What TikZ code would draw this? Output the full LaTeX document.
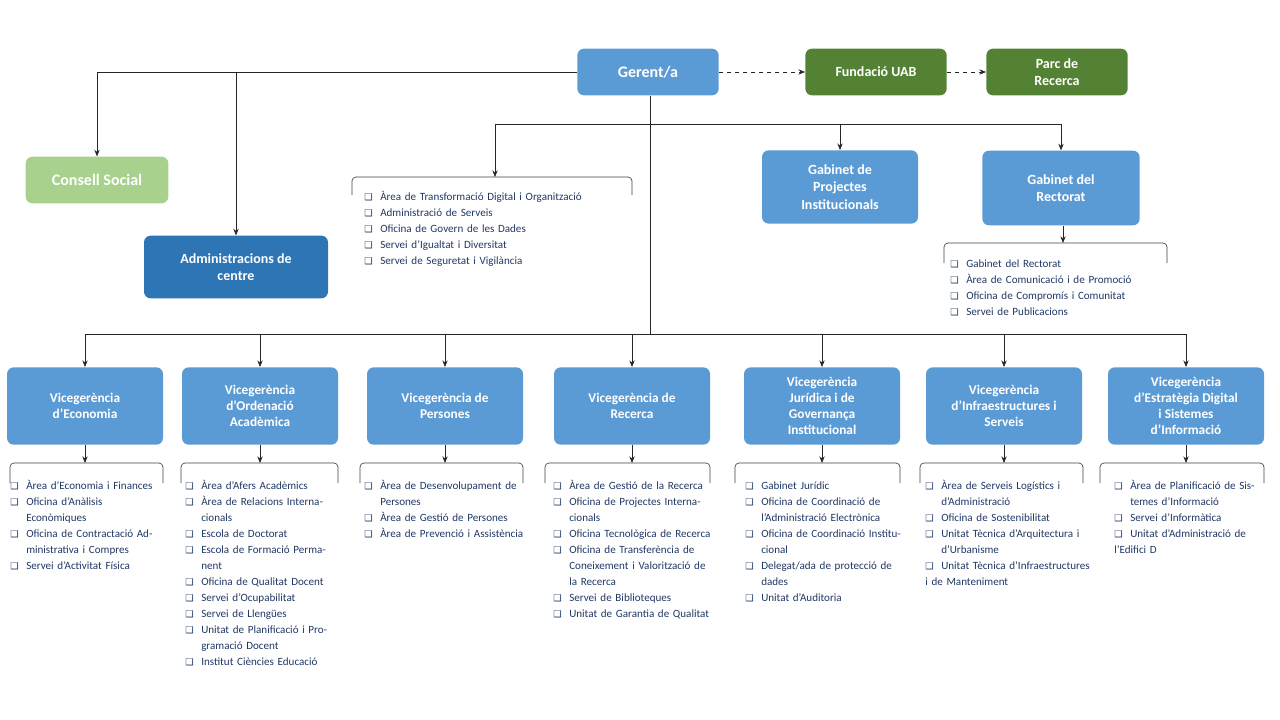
\documentclass[tikz,border=0pt]{standalone}
\usepackage{fontspec}
\setmainfont{Carlito}
\newfontfamily\symfont{DejaVu Sans}
\usetikzlibrary{arrows.meta}
\definecolor{boxblue}{HTML}{5B9BD5}
\definecolor{darkblue}{HTML}{2E75B6}
\definecolor{darkgreen}{HTML}{548235}
\definecolor{lightgreen}{HTML}{A9D18E}
\definecolor{listtext}{HTML}{203864}
\newcommand\li[1]{\par\noindent\hangindent=12pt\hangafter=1\makebox[12pt][l]{\symfont\fontsize{7}{12}\selectfont ❑}#1}
\tikzset{
  unit/.style={draw=none, fill=boxblue, rounded corners=5pt, text=white, font=\bfseries\fontsize{10.5}{13}\selectfont, align=center, inner sep=2pt},
  listbox/.style={anchor=north west, inner sep=0pt, text=listtext, font=\fontsize{8.3}{12}\selectfont, align=left},
  link/.style={draw=black!85, line width=0.6pt},
  tip/.style={link, -{Stealth[length=5pt,width=4pt]}},
  bracket/.style={draw=black!75, line width=0.5pt, rounded corners=3pt}
}
\begin{document}
\begin{tikzpicture}[x=0.75pt, y=-0.75pt]
\useasboundingbox (0,0) rectangle (1280,720);

% top level
\node[unit, minimum width=106pt, minimum height=35pt, font=\bfseries\fontsize{12}{14}\selectfont] (gerent) at (648,72) {Gerent/a};
\node[unit, fill=darkgreen, minimum width=106pt, minimum height=35pt] (fundacio) at (876,72) {Fundació UAB};
\node[unit, fill=darkgreen, minimum width=106pt, minimum height=35pt] (parc) at (1057,72) {Parc de\\Recerca};
\node[unit, fill=lightgreen, minimum width=107pt, minimum height=35pt, font=\bfseries\fontsize{12}{14}\selectfont] (consell) at (97,180) {Consell Social};
\node[unit, fill=darkblue, minimum width=138pt, minimum height=47pt] (admcentre) at (236,267) {Administracions de\\centre};
\node[unit, minimum width=117pt, minimum height=55pt] (gabproj) at (840,187) {Gabinet de\\Projectes\\Institucionals};
\node[unit, minimum width=118pt, minimum height=56pt] (gabrect) at (1061,188) {Gabinet del\\Rectorat};

% vicegerencies
\foreach \name/\x/\txt in {vEco/85/{Vicegerència\\d’Economia}, vOrd/260/{Vicegerència\\d’Ordenació\\Acadèmica}, vPer/445/{Vicegerència de\\Persones}, vRec/632/{Vicegerència de\\Recerca}, vJur/822/{Vicegerència\\Jurídica i de\\Governança\\Institucional}, vInf/1004/{Vicegerència\\d’Infraestructures i\\Serveis}, vEst/1186/{Vicegerència\\d’Estratègia Digital\\i Sistemes\\d’Informació}}
  \node[unit, minimum width=117pt, minimum height=58pt, font=\bfseries\fontsize{10}{12}\selectfont] (\name) at (\x,406) {\txt};

% connectors from gerent
\coordinate (hub) at (650,124);
\coordinate (low) at (650,334);
\draw[tip] (gerent.west) -| (consell.north);
\draw[tip] (236,72) -- (admcentre.north);
\draw[tip, dashed] (gerent.east) -- (fundacio.west);
\draw[tip, dashed] (fundacio.east) -- (parc.west);
\draw[link] (gerent.south -| hub) -- (low);
\coordinate (midtop) at (495,177);
\draw[tip] (hub) -| (midtop);
\draw[tip] (hub) -| (gabproj.north);
\draw[tip] (hub) -| (gabrect.north);
\foreach \name in {vEco, vOrd, vPer, vRec, vJur, vInf, vEst}
  \draw[tip] (low) -| (\name.north);
\draw[link] (vEco.north |- low) -- (vEst.north |- low);

% brackets
\draw[bracket] (352,195) |- (632,177) -- (632,195);
\coordinate (recttop) at (1063,243);
\draw[tip] (gabrect.south -| recttop) -- (recttop);
\draw[bracket] (944,263) |- (1167,243) -- (1167,263);
\foreach \name/\l/\r in {vEco/10/163, vOrd/181/338, vPer/360/523, vRec/545/710, vJur/735/900, vInf/920/1083, vEst/1100/1264} {
  \draw[bracket] (\l,483) |- (\r,463) -- (\r,483);
  \draw[tip] (\name.south) -- (\name.south |- 0,463);
}

% lists
\node[listbox, text width=205pt] (listGer) at (364,184) {\li{Àrea de Transformació Digital i Organització}\li{Administració de Serveis}\li{Oficina de Govern de les Dades}\li{Servei d’Igualtat i Diversitat}\li{Servei de Seguretat i Vigilància}};
\node[listbox, text width=160pt] (listRect) at (950,251) {\li{Gabinet del Rectorat}\li{Àrea de Comunicació i de Promoció}\li{Oficina de Compromís i Comunitat}\li{Servei de Publicacions}};
\node[listbox, text width=116pt] (listEco) at (10,473) {\li{Àrea d’Economia i Finances}\li{Oficina d’Anàlisis Econòmiques}\li{Oficina de Contractació Administrativa i Compres}\li{Servei d’Activitat Física}};
\node[listbox, text width=116pt] (listOrd) at (185,473) {\li{Àrea d’Afers Acadèmics}\li{Àrea de Relacions Internacionals}\li{Escola de Doctorat}\li{Escola de Formació Permanent}\li{Oficina de Qualitat Docent}\li{Servei d’Ocupabilitat}\li{Servei de Llengües}\li{Unitat de Planificació i Programació Docent}\li{Institut Ciències Educació}};
\node[listbox, text width=122pt] (listPer) at (364,473) {\li{Àrea de Desenvolupament de Persones}\li{Àrea de Gestió de Persones}\li{Àrea de Prevenció i Assistència}};
\node[listbox, text width=122pt] (listRec) at (553,473) {\li{Àrea de Gestió de la Recerca}\li{Oficina de Projectes Internacionals}\li{Oficina Tecnològica de Recerca}\li{Oficina de Transferència de Coneixement i Valorització de la Recerca}\li{Servei de Biblioteques}\li{Unitat de Garantia de Qualitat}};
\node[listbox, text width=122pt] (listJur) at (745,473) {\li{Gabinet Jurídic}\li{Oficina de Coordinació de l’Administració Electrònica}\li{Oficina de Coordinació Institucional}\li{Delegat/ada de protecció de dades}\li{Unitat d’Auditoria}};
\node[listbox, text width=124pt] (listInf) at (925,473) {\li{Àrea de Serveis Logístics i d’Administració}\li{Oficina de Sostenibilitat}\li{Unitat Tècnica d’Arquitectura i d’Urbanisme}\li{Unitat Tècnica d’Infraestructures i de Manteniment}};
\node[listbox, text width=116pt] (listEst) at (1114,473) {\li{Àrea de Planificació de Sistemes d’Informació}\li{Servei d’Informàtica}\li{Unitat d’Administració de l’Edifici D}};
\end{tikzpicture}
\end{document}
